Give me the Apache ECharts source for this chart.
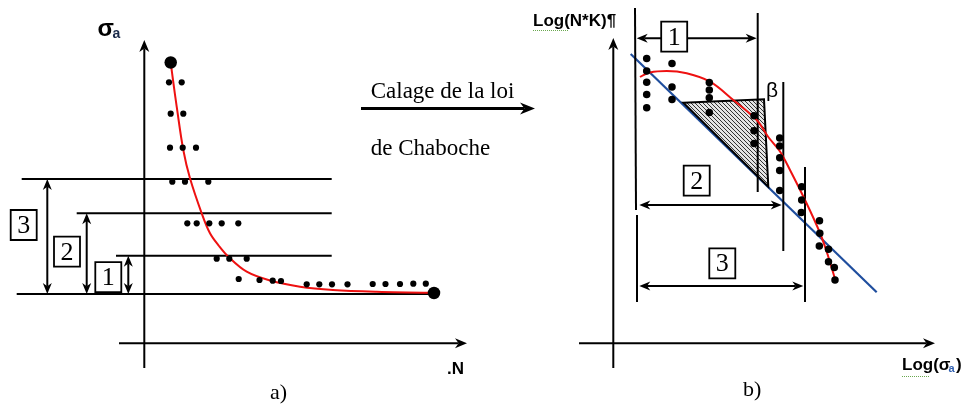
<!DOCTYPE html>
<html><head><meta charset="utf-8">
<script src="https://cdn.jsdelivr.net/npm/echarts@6/dist/echarts.min.js"></script>
<style>html,body{margin:0;padding:0;background:#fff}#c{width:966px;height:410px}</style>
</head><body><div id="c"></div>
<script>
// ---------- DATA (diagram units) ----------
// panel a) : sigma_a vs N
const leftDots = [
  [169,82.3],[181.7,82.3],
  [170.7,113.7],[183.3,113.7],
  [170,147.7],[182.7,147.7],[196,147.7],
  [172.3,181.7],[185,181.7],[208.3,181.7],
  [187.3,223.3],[196.7,223.3],[209.3,223.3],[221.7,223.3],[238.3,223.3],
  [216.7,258.7],[229.3,258.7],[246.7,258.7],
  [238.7,279],[259.5,280],[272.7,280.7],[281,281],
  [306.7,284.3],[319.3,284.3],[332,284.3],[347.5,284.3],[372.7,284],[385.5,284],[400,284],[413.3,283.7],[425.8,283.7]
];
const leftEndDots = [[170.7,62.5],[434,293]];
const leftCurve = [
  [170.7,62.5],[173,80],[176.7,106.7],[183.3,150],[190,178.3],[201.7,213.3],[210,233.3],
  [219,246],[228.3,256.7],[246.7,271.7],[270,280.5],[300,286.7],[333,290],[376.7,291.8],[432,292.8]
];
// panel b) : Log(N*K) vs Log(sigma_a)
const rightDots = [
  [646.7,58.5],[646.7,71],[646.7,82.3],[646.7,94.5],[646.7,107.7],
  [672,63.5],[672,87],[672,99.5],
  [709.3,82.5],[709.3,90],[709.3,97.7],[709.3,112.5],
  [754,115.7],[754,130.8],[754,143.5],
  [779.7,138],[779.7,146],[779.7,157.7],[779.7,170.5],[779.7,190.5],
  [801.7,186.7],[801.7,200],[801.3,212.5],
  [819.5,220.7],[819.8,233.3],[819.3,246],[828.5,249.3],[828.5,261.7],[834.3,267.5],[835,280]
];
const rightCurve = [
  [640,77],[650,72.5],[666.7,71],[686.7,73.3],[710,81.7],[733.3,100],[756.7,120],
  [768.3,137],[780,151.5],[790,170],[805,200],[820,233],[828.3,256.7],[835,279]
];
const blueLine = [[630.7,54],[876.7,292.3]];
const hatchTriangle = [[683.3,102.7],[764,99.3],[768.3,186.7]];

// construction lines
const plainSegments = [
  [[21.7,179],[331.7,179]],
  [[76.7,213.3],[331.7,213.3]],
  [[116,255.7],[331.7,255.7]],
  [[16.7,294],[434,294]],
  [[635,8],[636,210]],
  [[637,215],[637,302]],
  [[757.7,13],[757.7,192]],
  [[783.3,82],[783.3,251]],
  [[805,167],[805,302]]
];
const axisArrows = [
  [[144.3,368],[144.3,40]],
  [[119,343.3],[467,343.3]],
  [[613.3,368],[613.3,38]],
  [[579,343.3],[935,343.3]]
];
const mainArrow = [[[361,108.5],[535,108.5]]];
const doubleArrows = [
  [[47.3,179],[47.3,294]],
  [[86.7,213.3],[86.7,294]],
  [[128.3,255.7],[128.3,294]],
  [[636.7,38.3],[756.7,38.3]],
  [[639.3,205],[781.7,205]],
  [[639.3,286],[803.3,286]]
];
const boxLabels = ['3','2','1','1','2','3'];
const boxCenters = [[23.7,225],[67,251.7],[108.3,277.2],[674.2,36.7],[696.7,180.7],[722.3,263.3]];

const textLabels = ['σ','a','.N','a)','Calage de la loi','de Chaboche','Log(N*K)¶','Log(σ','a',')','b)','β'];
const textAnchors = [[97.5,29.5],[112.5,34.5],[447,369],[270,393],[370.7,92],[370.7,148.7],[533,21],[902,365],[948.5,369],[956,365],[743,390.6],[766,91]];
const squiggles = [[[533,30],[569,30]],[[902,376.5],[929,376.5]]];

// ---------- STYLES ----------
const SANS = '"Liberation Sans", Arial, sans-serif';
const SERIF = '"Liberation Serif", "Times New Roman", serif';
const textStyles = [
  {fontSize:24, fontWeight:'bold', fontFamily:SANS, fill:'#000'},
  {fontSize:14, fontWeight:'bold', fontFamily:SANS, fill:'#1a2a4a'},
  {fontSize:17, fontWeight:'bold', fontFamily:SANS, fill:'#000'},
  {fontSize:22, fontFamily:SERIF, fill:'#000'},
  {fontSize:23, fontFamily:SERIF, fill:'#000'},
  {fontSize:23, fontFamily:SERIF, fill:'#000'},
  {fontSize:17, fontWeight:'bold', fontFamily:SANS, fill:'#000'},
  {fontSize:17, fontWeight:'bold', fontFamily:SANS, fill:'#000'},
  {fontSize:11, fontWeight:'bold', fontFamily:SANS, fill:'#2f5fb0'},
  {fontSize:17, fontWeight:'bold', fontFamily:SANS, fill:'#000'},
  {fontSize:22, fontFamily:SERIF, fill:'#000'},
  {fontSize:21, fontFamily:SANS, fill:'#000'}
];

function makeHatch(){
  const c = document.createElement('canvas');
  c.width = 4; c.height = 4;
  const g = c.getContext('2d');
  g.fillStyle = '#e4e4e4'; g.fillRect(0,0,4,4);
  g.strokeStyle = '#333'; g.lineWidth = 1;
  g.beginPath();
  g.moveTo(-1,-1); g.lineTo(5,5);
  g.moveTo(-1,3); g.lineTo(1,5);
  g.moveTo(3,-1); g.lineTo(5,1);
  g.stroke();
  return c;
}
const hatch = makeHatch();

function arrowHead(tip, from, L, W){
  const dx = tip[0]-from[0], dy = tip[1]-from[1];
  const len = Math.hypot(dx,dy) || 1;
  const ux = dx/len, uy = dy/len, nx = -uy, ny = ux;
  const bx = tip[0]-ux*L, by = tip[1]-uy*L;
  const notch = [tip[0]-ux*L*0.7, tip[1]-uy*L*0.7];
  return {points:[tip,[bx+nx*W/2,by+ny*W/2],notch,[bx-nx*W/2,by-ny*W/2]], notch};
}
function segSeries(data, heads, L, W, lw, z){
  return {
    type:'custom', coordinateSystem:'cartesian2d', silent:true, z:z,
    data: data.map(s => [s[0][0],s[0][1],s[1][0],s[1][1]]),
    encode:{x:[0,2], y:[1,3]},
    renderItem(params, api){
      const p1 = api.coord([api.value(0),api.value(1)]);
      const p2 = api.coord([api.value(2),api.value(3)]);
      const ch = [];
      let a = p1, b = p2;
      if (heads >= 1){ const h = arrowHead(p2,p1,L,W); ch.push({type:'polygon',shape:{points:h.points},style:{fill:'#000'}}); b = h.notch; }
      if (heads === 2){ const h = arrowHead(p1,p2,L,W); ch.push({type:'polygon',shape:{points:h.points},style:{fill:'#000'}}); a = h.notch; }
      ch.unshift({type:'line',shape:{x1:a[0],y1:a[1],x2:b[0],y2:b[1]},style:{stroke:'#000',lineWidth:lw}});
      return {type:'group', children:ch};
    }
  };
}

const dotStyle = {color:'#000', opacity:1};
const chart = echarts.init(document.getElementById('c'));
chart.setOption({
  animation:false,
  backgroundColor:'#fff',
  grid:{left:0,right:0,top:0,bottom:0},
  xAxis:{type:'value',min:0,max:966,show:false},
  yAxis:{type:'value',min:0,max:410,inverse:true,show:false},
  series:[
    {type:'line', data:blueLine, symbol:'none', z:2, silent:true,
     lineStyle:{color:'#1f4e9e', width:2.2}},
    {type:'custom', coordinateSystem:'cartesian2d', silent:true, z:3,
     data: hatchTriangle,
     renderItem(params, api){
       if (params.dataIndex !== 0) return null;
       const pts = hatchTriangle.map(p => api.coord(p));
       return {type:'polygon', shape:{points:pts},
         style:{fill:{image:hatch, repeat:'repeat'}, stroke:'#000', lineWidth:2, lineJoin:'miter'}};
     }},
    segSeries(plainSegments, 0, 0, 0, 2, 4),
    {type:'line', data:leftCurve, smooth:0.35, symbol:'none', z:5, silent:true,
     lineStyle:{color:'#ee1111', width:2}},
    {type:'line', data:rightCurve, smooth:0.35, symbol:'none', z:5, silent:true,
     lineStyle:{color:'#ee1111', width:2}},
    {type:'scatter', data:leftDots, symbol:'circle', symbolSize:6.2, z:6, silent:true, itemStyle:dotStyle},
    {type:'scatter', data:leftEndDots, symbol:'circle', symbolSize:12.5, z:6, silent:true, itemStyle:dotStyle},
    {type:'scatter', data:rightDots, symbol:'circle', symbolSize:7.5, z:6, silent:true, itemStyle:dotStyle},
    segSeries(axisArrows, 1, 12, 10, 2, 7),
    segSeries(mainArrow, 1, 15, 12, 3, 7),
    segSeries(doubleArrows, 2, 11, 9, 2, 7),
    {type:'lines', coordinateSystem:'cartesian2d', z:7, silent:true,
     data: squiggles.map(s => ({coords:s})),
     lineStyle:{color:'#6aa84f', width:1, type:'dotted', opacity:1}},
    {type:'custom', coordinateSystem:'cartesian2d', silent:true, z:8,
     data: boxCenters,
     renderItem(params, api){
       const c = api.coord([api.value(0), api.value(1)]);
       return {type:'group', children:[
         {type:'rect', shape:{x:c[0]-13, y:c[1]-15, width:26, height:30},
          style:{fill:'#fff', stroke:'#000', lineWidth:1.8}},
         {type:'text', x:c[0], y:c[1]+1,
          style:{text:boxLabels[params.dataIndex], fontSize:26, fontFamily:SERIF, fill:'#000',
                 align:'center', verticalAlign:'middle'}}
       ]};
     }},
    {type:'custom', coordinateSystem:'cartesian2d', silent:true, z:9,
     data: textAnchors,
     renderItem(params, api){
       const c = api.coord([api.value(0), api.value(1)]);
       const st = Object.assign({text:textLabels[params.dataIndex], align:'left', verticalAlign:'middle'},
                                textStyles[params.dataIndex]);
       return {type:'text', x:c[0], y:c[1], style:st};
     }}
  ]
});
</script>
</body></html>
